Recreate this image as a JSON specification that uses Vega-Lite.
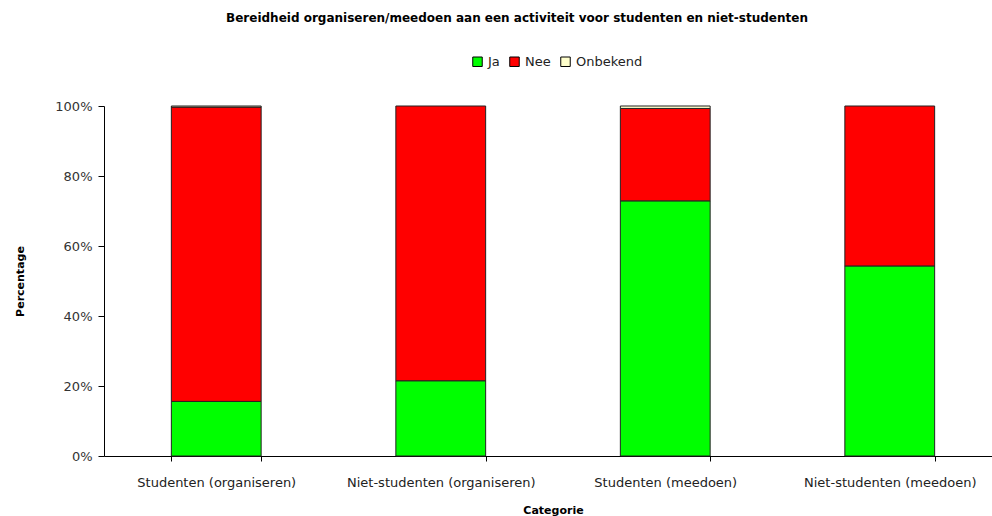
{
  "$schema": "https://vega.github.io/schema/vega-lite/v6.json",
  "autosize": {"type": "none"},
  "width": 898,
  "height": 350,
  "padding": {"left": 104, "top": 106, "right": 0, "bottom": 60},
  "background": "white",
  "config": {
    "font": "DejaVu Sans",
    "view": {"stroke": null}
  },
  "title": {
    "text": "Bereidheid organiseren/meedoen aan een activiteit voor studenten en niet-studenten",
    "fontSize": 12,
    "fontWeight": "bold",
    "color": "#000000",
    "anchor": "middle",
    "dx": -36,
    "offset": 30
  },
  "data": {
    "values": [
      {"categorie": "Studenten (organiseren)", "antwoord": "Ja", "percentage": 15.6},
      {"categorie": "Studenten (organiseren)", "antwoord": "Nee", "percentage": 84.1},
      {"categorie": "Studenten (organiseren)", "antwoord": "Onbekend", "percentage": 0.3},
      {"categorie": "Niet-studenten (organiseren)", "antwoord": "Ja", "percentage": 21.5},
      {"categorie": "Niet-studenten (organiseren)", "antwoord": "Nee", "percentage": 78.5},
      {"categorie": "Studenten (meedoen)", "antwoord": "Ja", "percentage": 72.9},
      {"categorie": "Studenten (meedoen)", "antwoord": "Nee", "percentage": 26.4},
      {"categorie": "Studenten (meedoen)", "antwoord": "Onbekend", "percentage": 0.7},
      {"categorie": "Niet-studenten (meedoen)", "antwoord": "Ja", "percentage": 54.3},
      {"categorie": "Niet-studenten (meedoen)", "antwoord": "Nee", "percentage": 45.7}
    ]
  },
  "mark": {"type": "bar", "stroke": "#222222", "strokeWidth": 1},
  "encoding": {
    "x": {
      "field": "categorie",
      "type": "nominal",
      "sort": ["Studenten (organiseren)", "Niet-studenten (organiseren)", "Studenten (meedoen)", "Niet-studenten (meedoen)"],
      "scale": {"paddingInner": 0.6, "paddingOuter": 0.3},
      "axis": {
        "title": "Categorie",
        "titleFontSize": 11,
        "titleFontWeight": "bold",
        "titleColor": "#000000",
        "titlePadding": 15,
        "labelAngle": 0,
        "labelFontSize": 13,
        "labelColor": "#222222",
        "labelPadding": 15,
        "labelLimit": 400,
        "tickBand": "extent",
        "tickSize": 5,
        "tickColor": "#000000",
        "domainColor": "#000000",
        "grid": false
      }
    },
    "y": {
      "field": "percentage",
      "type": "quantitative",
      "stack": "normalize",
      "scale": {"domain": [0, 1]},
      "axis": {
        "title": "Percentage",
        "titleFontSize": 11,
        "titleFontWeight": "bold",
        "titleColor": "#000000",
        "titlePadding": 29,
        "format": ".0%",
        "values": [0, 0.2, 0.4, 0.6, 0.8, 1],
        "labelFontSize": 13,
        "labelColor": "#333333",
        "labelPadding": 6,
        "tickSize": 6,
        "tickColor": "#000000",
        "domainColor": "#000000",
        "grid": false
      }
    },
    "color": {
      "field": "antwoord",
      "type": "nominal",
      "scale": {"domain": ["Ja", "Nee", "Onbekend"], "range": ["#00FF00", "#FF0000", "#FFFFCC"]},
      "legend": {
        "title": null,
        "orient": "none",
        "direction": "horizontal",
        "legendX": 367,
        "legendY": -51,
        "symbolType": "square",
        "symbolSize": 90,
        "symbolStrokeColor": "#000000",
        "symbolStrokeWidth": 1,
        "labelFontSize": 13,
        "labelColor": "#222222",
        "labelOffset": 4,
        "columnPadding": 7
      }
    },
    "order": {"field": "antwoord", "sort": "ascending"}
  }
}
